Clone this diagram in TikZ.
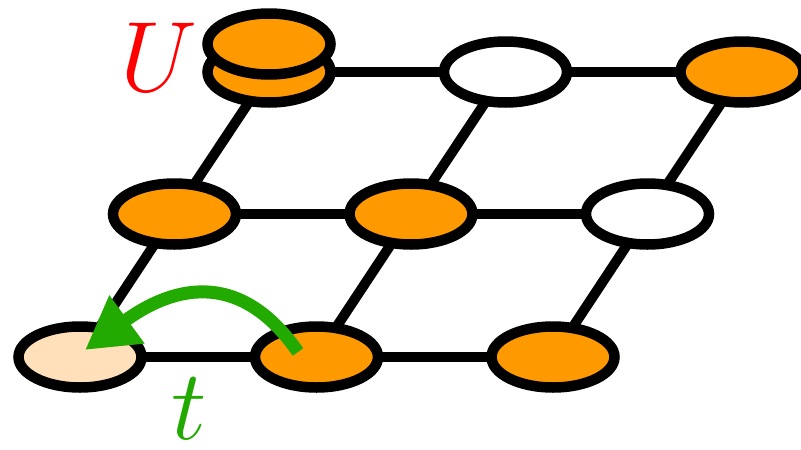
\RequirePackage{fix-cm}
\documentclass[tikz,border=0pt]{standalone}
\usetikzlibrary{arrows.meta,shapes.geometric}
\definecolor{dotorange}{RGB}{255,153,0}
\definecolor{dotpeach}{RGB}{255,224,187}
\definecolor{arrgreen}{RGB}{34,170,0}
\pgfdeclarelayer{background}
\pgfsetlayers{background,main}
\begin{document}
\begin{tikzpicture}[x=1pt,y=-1pt,
  site/.style={ellipse, draw=black, line width=10.5pt, minimum width=123pt, minimum height=61pt, inner sep=0pt},
  full/.style={site, fill=dotorange},
  empty/.style={site, fill=white},
  hole/.style={site, fill=dotpeach},
  bond/.style={line width=10pt, black},
  hop/.style={line width=13pt, arrgreen, -{Triangle[length=52pt,width=56pt]}},
  lbl/.style={font=\fontsize{100}{100}\selectfont, inner sep=0pt}]
\useasboundingbox (0,0) rectangle (801,450);
% bottom row
\node[hole]  (b1) at (80,357) {};
\node[full]  (b2) at (316.5,357) {};
\node[full]  (b3) at (553,357) {};
% middle row
\node[full]  (m1) at (174.5,214) {};
\node[full]  (m2) at (411,214) {};
\node[empty] (m3) at (647.5,214) {};
% top row
\node[full]  (t1) at (269,72) {};
\node[full]  (t1u) at (269,44) {};
\node[empty] (t2) at (505.5,72) {};
\node[full]  (t3) at (742,72) {};
\begin{pgfonlayer}{background}
  \draw[bond] (b1.center) -- (b2.center) -- (b3.center);
  \draw[bond] (m1.center) -- (m2.center) -- (m3.center);
  \draw[bond] (t1.center) -- (t2.center) -- (t3.center);
  \draw[bond] (b1.center) -- (m1.center) -- (t1.center);
  \draw[bond] (b2.center) -- (m2.center) -- (t2.center);
  \draw[bond] (b3.center) -- (m3.center) -- (t3.center);
\end{pgfonlayer}
% hopping arrow
\coordinate (hs) at (298,352);
\coordinate (he) at (85,350);
\draw[hop] (hs) .. controls (238,266) and (170,288) .. (he);
% labels
\node[lbl, text=red] (U) at (159,57) {$U$};
\node[lbl, text=arrgreen] (t) at (189,409) {$t$};
\end{tikzpicture}
\end{document}
